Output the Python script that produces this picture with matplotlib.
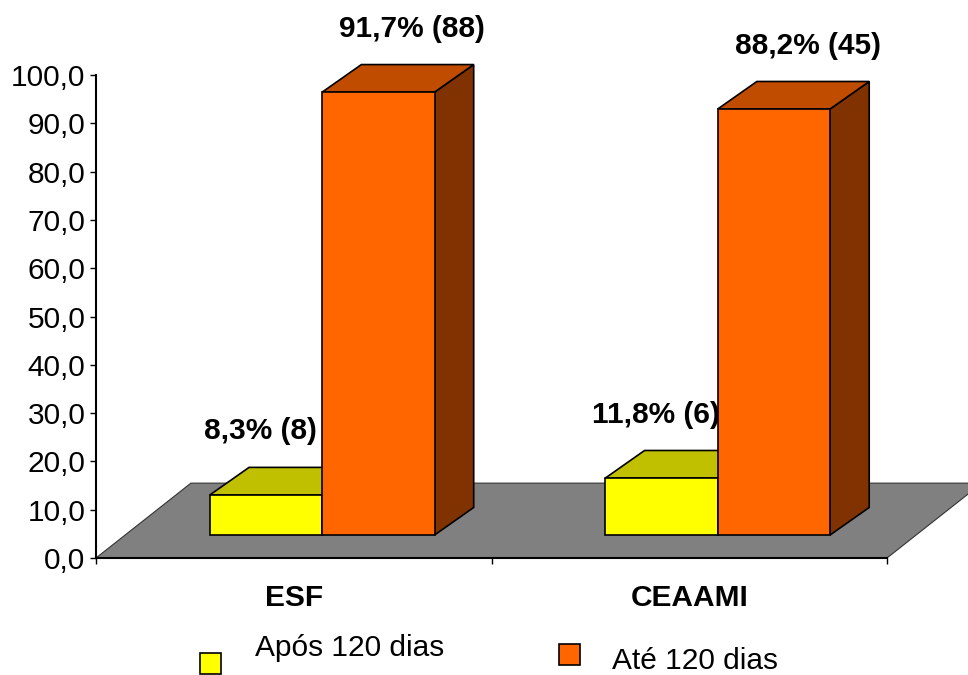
import matplotlib.pyplot as plt
from matplotlib.patches import Polygon, Rectangle

plt.rcParams["font.family"] = ["Liberation Sans", "DejaVu Sans"]

# data
categories = ["ESF", "CEAAMI"]
series_names = ["Após 120 dias", "Até 120 dias"]
apos_120_pct = [8.3, 11.8]
ate_120_pct = [91.7, 88.2]
apos_120_n = [8, 6]
ate_120_n = [88, 45]
y_ticks = [0, 10, 20, 30, 40, 50, 60, 70, 80, 90, 100]

# 3d look (data units: x in categories, y in percent)
FLOOR_DX, FLOOR_DY = 0.240, 15.5
FRONT_DX, FRONT_DY = 0.072, 4.76
DEPTH_DX, DEPTH_DY = 0.099, 5.7
BAR_LEFT = 0.216
BAR_W = 0.284

COLORS = {
    "apos": {"front": "#FFFF00", "top": "#C0C000", "side": "#808000"},
    "ate": {"front": "#FF6600", "top": "#C04C00", "side": "#803300"},
}
FS = 21.5


def draw_box(ax, x0, height, colors, zorder):
    fx0 = x0 + FRONT_DX
    fx1 = fx0 + BAR_W
    fy0 = FRONT_DY
    fy1 = fy0 + height
    faces = [
        ([(fx1, fy0), (fx1 + DEPTH_DX, fy0 + DEPTH_DY),
          (fx1 + DEPTH_DX, fy1 + DEPTH_DY), (fx1, fy1)], colors["side"]),
        ([(fx0, fy1), (fx1, fy1), (fx1 + DEPTH_DX, fy1 + DEPTH_DY),
          (fx0 + DEPTH_DX, fy1 + DEPTH_DY)], colors["top"]),
        ([(fx0, fy0), (fx1, fy0), (fx1, fy1), (fx0, fy1)], colors["front"]),
    ]
    for pts, c in faces:
        ax.add_patch(Polygon(pts, closed=True, facecolor=c, edgecolor="black",
                             linewidth=1.2, joinstyle="miter", zorder=zorder,
                             clip_on=False))


def main():
    fig = plt.figure(figsize=(9.68, 6.75), dpi=100)
    ax = fig.add_axes([96 / 968, 1 - 558 / 675, 791 / 968, 483 / 675])
    ax.set_xlim(0, 2)
    ax.set_ylim(0, 100)

    # floor
    ax.add_patch(Polygon([(0, 0), (2, 0), (2 + FLOOR_DX, FLOOR_DY), (FLOOR_DX, FLOOR_DY)],
                         closed=True, facecolor="#808080", edgecolor="#333333",
                         linewidth=0.8, zorder=1, clip_on=False))

    # bars + labels
    for i in range(len(categories)):
        x_apos = i + BAR_LEFT
        x_ate = x_apos + BAR_W
        draw_box(ax, x_apos, apos_120_pct[i], COLORS["apos"], zorder=2)
        ax.text(x_apos + BAR_W / 2 + 0.058, apos_120_pct[i] + 17.9,
                f"{apos_120_pct[i]:.1f}% ({apos_120_n[i]})".replace(".", ","),
                ha="center", va="center", fontsize=FS, fontweight="bold", zorder=3)
        draw_box(ax, x_ate, ate_120_pct[i], COLORS["ate"], zorder=4)
        ax.text(x_ate + BAR_W / 2 + 0.157, ate_120_pct[i] + 17.9,
                f"{ate_120_pct[i]:.1f}% ({ate_120_n[i]})".replace(".", ","),
                ha="center", va="center", fontsize=FS, fontweight="bold", zorder=5)

    # axes
    for side in ["top", "right"]:
        ax.spines[side].set_visible(False)
    ax.spines["left"].set_linewidth(1.5)
    ax.spines["bottom"].set_linewidth(1.5)
    ax.patch.set_visible(False)

    ax.set_yticks(y_ticks)
    ax.set_yticklabels([f"{v:.1f}".replace(".", ",") for v in y_ticks], fontsize=FS)
    ax.tick_params(axis="y", direction="out", length=4.5, width=1, pad=3)

    ax.set_xticks([0, 1, 2])
    ax.set_xticklabels([])
    ax.tick_params(axis="x", which="major", direction="out", length=4.5, width=1)
    ax.set_xticks([0.5, 1.5], minor=True)
    ax.set_xticklabels(categories, minor=True, fontsize=FS, fontweight="bold")
    ax.tick_params(axis="x", which="minor", length=0, pad=19)

    # legend
    legend_items = [
        (200, 653, 255, 656, COLORS["apos"]["front"], series_names[0]),
        (559, 644, 612, 669, COLORS["ate"]["front"], series_names[1]),
    ]
    for sx, sy, tx, ty, c, label in legend_items:
        fig.patches.append(Rectangle((sx / 968, 1 - (sy + 21) / 675), 21 / 968, 21 / 675,
                                     facecolor=c, edgecolor="black", linewidth=1.2,
                                     transform=fig.transFigure))
        fig.text(tx / 968, 1 - ty / 675, label, fontsize=FS, va="baseline", ha="left")

    fig.savefig("out.png", dpi=100)


if __name__ == "__main__":
    main()
